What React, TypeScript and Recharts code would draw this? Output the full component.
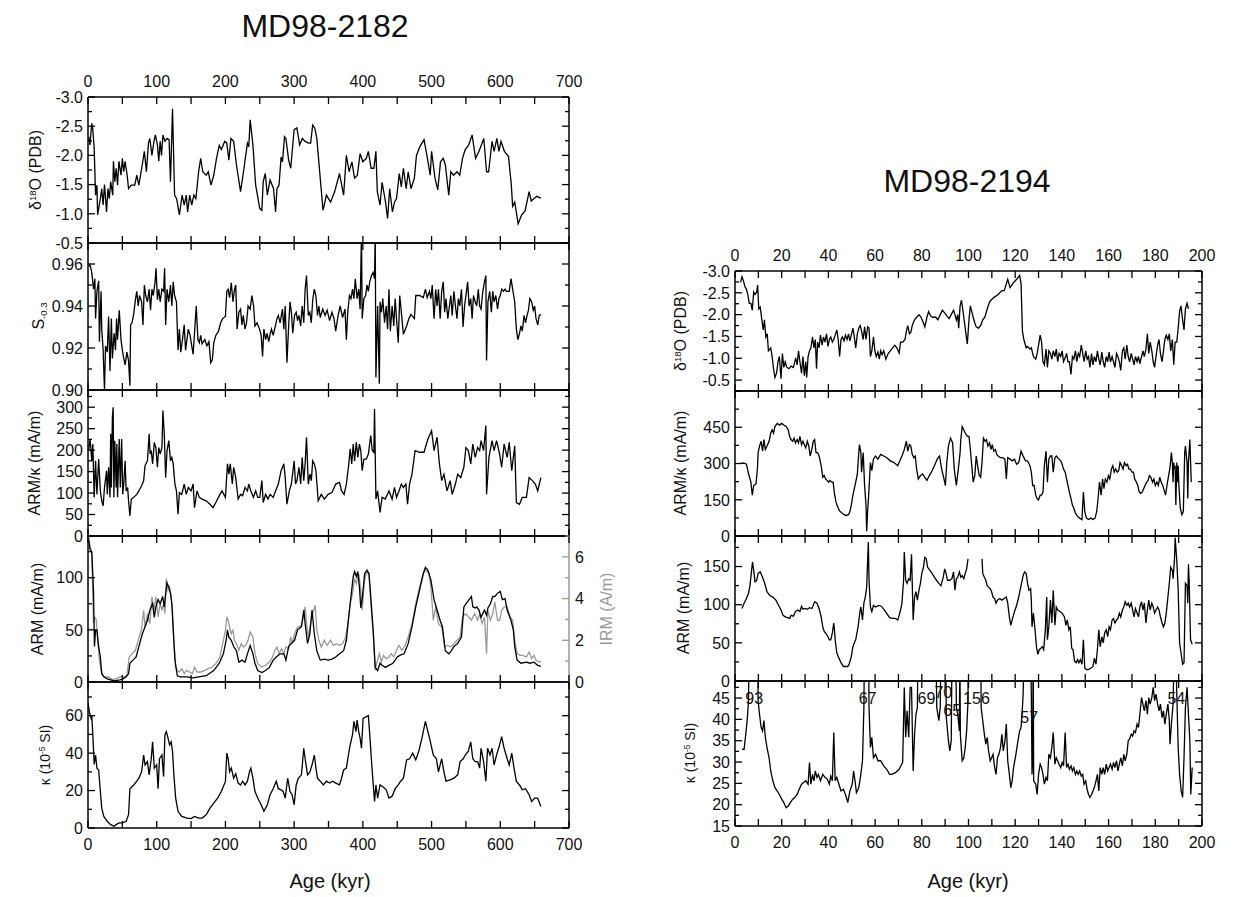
import React from 'react';
import { LineChart, Line, XAxis, YAxis, ReferenceDot } from 'recharts';

type Pt = [number, number | null];

const FONT = '"Liberation Sans", Arial, sans-serif';
const M = 60; // axis band around every plot area inside its svg

// ---------- MD98-2182 (left column), age in kyr ----------
const leftD18O: Pt[] = [
  [1, -2.32], [3, -2.18], [4, -2.35], [5.5, -2.55], [7, -2.44], [9, -2.12], [11, -1.32], [13, -1.49], [14, -0.98],
  [18, -1.26], [20, -1.43], [22, -1.15], [24, -1.5], [27, -1.03], [29, -1.43], [31, -1.26], [33, -1.55], [36, -1.32],
  [37, -1.9], [39, -1.55], [41, -1.78], [43, -1.49], [45, -1.9], [48, -1.66], [50, -1.95], [52, -1.72], [54, -1.9],
  [57, -1.66], [59, -1.43], [63, -1.49], [68, -1.49], [71, -1.66], [74, -1.49], [79, -1.84], [82, -2.07], [85, -1.72],
  [88, -2.21], [90, -2.29], [93, -2.0], [96, -2.24], [98, -2.35], [101, -2.18], [103, -1.9], [105, -2.24], [107, -2.0],
  [109, -2.35], [112, -2.24], [115, -2.29], [118, -2.27], [120, -1.55], [123, -2.8], [126, -1.32], [129, -1.26],
  [133, -0.98], [137, -1.32], [140, -1.15], [143, -1.32], [145, -1.03], [148, -1.32], [151, -1.15], [154, -1.32],
  [157, -1.26], [161, -1.72], [164, -1.95], [167, -1.72], [172, -1.66], [175, -1.72], [179, -1.49], [183, -1.66],
  [187, -1.95], [191, -2.17], [194, -2.1], [199, -2.24], [202, -2.21], [205, -1.92], [208, -2.29], [212, -2.24],
  [216, -1.84], [222, -1.38], [227, -1.78], [232, -2.21], [234, -2.15], [236, -2.61], [240, -2.18], [244, -1.49],
  [250, -1.09], [253, -1.06], [255, -1.55], [258, -1.69], [261, -1.32], [265, -1.58], [270, -1.43], [273, -1.03],
  [275, -1.43], [278, -1.49], [281, -1.97], [283, -1.89], [286, -2.32], [288, -2.29], [292, -1.92], [295, -1.78],
  [300, -2.44], [304, -2.47], [308, -2.18], [312, -2.29], [316, -2.24], [321, -2.21], [324, -2.21], [327, -2.52],
  [330, -2.47], [333, -2.29], [342, -1.06], [347, -1.32], [353, -1.2], [359, -1.38], [366, -1.69], [372, -1.32],
  [376, -2.0], [380, -1.72], [384, -1.89], [388, -1.61], [392, -1.66], [396, -2.03], [400, -1.89], [405, -1.95],
  [408, -2.07], [412, -1.78], [416, -1.78], [419, -2.07], [421, -1.38], [425, -1.15], [428, -1.54], [433, -1.2],
  [436, -0.92], [439, -1.43], [443, -1.03], [446, -1.2], [449, -1.26], [453, -1.69], [456, -1.46], [459, -1.78],
  [463, -1.43], [466, -1.72], [470, -1.43], [475, -1.61], [478, -2.0], [483, -2.15], [489, -2.27], [494, -1.95],
  [498, -1.66], [500, -2.07], [505, -1.61], [509, -1.41], [513, -1.89], [517, -1.95], [520, -1.84], [525, -1.32],
  [528, -1.72], [532, -1.66], [537, -1.72], [541, -1.66], [545, -1.95], [549, -2.1], [554, -2.18], [559, -2.35],
  [564, -1.95], [569, -2.07], [576, -2.29], [580, -1.72], [583, -1.72], [588, -2.24], [591, -2.07], [595, -2.29],
  [598, -2.07], [601, -2.24], [606, -2.07], [612, -1.98], [616, -1.5], [618, -1.13], [621, -1.2], [626, -0.83],
  [631, -0.98], [636, -1.05], [642, -1.38], [645, -1.22], [653, -1.3], [659, -1.27],
];

const leftS03: Pt[] = [
  [1, 0.959], [3, 0.9595], [5.5, 0.956], [8, 0.948], [10, 0.953], [11, 0.934], [13, 0.947], [15.5, 0.952], [16.6, 0.923],
  [19, 0.947], [20, 0.929], [22, 0.919], [24, 0.9], [25.5, 0.921], [28, 0.918], [30, 0.935], [32, 0.909], [34, 0.934],
  [35.5, 0.915], [38, 0.927], [40, 0.919], [41.6, 0.934], [43, 0.924], [45.5, 0.938], [48, 0.924], [50, 0.919],
  [52, 0.915], [54, 0.912], [56.6, 0.918], [59, 0.914], [61, 0.902], [62, 0.931], [64, 0.932], [66.5, 0.936],
  [69, 0.943], [71, 0.947], [73, 0.94], [75, 0.945], [78, 0.942], [80, 0.931], [82, 0.95], [84, 0.945], [86.5, 0.942],
  [89, 0.948], [91, 0.938], [93, 0.948], [95, 0.945], [97.6, 0.9515], [99, 0.958], [101, 0.943], [103, 0.948],
  [105, 0.942], [107.6, 0.948], [110, 0.947], [111.5, 0.958], [113, 0.931], [115, 0.948], [117.6, 0.942], [120, 0.95],
  [122, 0.94], [124, 0.9515], [126, 0.945], [128.7, 0.942], [131, 0.919], [133, 0.929], [135, 0.918], [137.5, 0.924],
  [140, 0.931], [142, 0.919], [144, 0.924], [146, 0.929], [148.6, 0.926], [151, 0.921], [153, 0.917], [155, 0.927],
  [157.5, 0.94], [160, 0.924], [162, 0.9225], [164, 0.926], [166, 0.922], [170, 0.924], [173, 0.921], [176, 0.923],
  [178.6, 0.913], [181, 0.9145], [183, 0.9225], [186, 0.926], [190, 0.928], [193, 0.932], [196, 0.934], [200, 0.935],
  [202, 0.947], [204, 0.948], [206, 0.944], [208.5, 0.951], [211, 0.942], [213, 0.9475], [215, 0.95], [217, 0.929],
  [219.6, 0.937], [222, 0.9385], [224, 0.931], [226, 0.9355], [228.5, 0.929], [230.7, 0.932], [233, 0.94],
  [236, 0.9385], [238.5, 0.945], [241, 0.94], [243, 0.9305], [246, 0.932], [249.6, 0.929], [252, 0.926], [254, 0.916],
  [256, 0.929], [258.5, 0.924], [260.7, 0.927], [263, 0.923], [265, 0.9265], [267, 0.929], [269.5, 0.926],
  [273, 0.931], [275, 0.934], [277, 0.9355], [279.5, 0.932], [283, 0.9385], [285, 0.929], [287, 0.94], [289.5, 0.913],
  [292, 0.9305], [294, 0.942], [296, 0.937], [298, 0.927], [300.6, 0.9355], [303, 0.937], [305, 0.933], [307, 0.9355],
  [309.5, 0.9305], [311.7, 0.94], [314, 0.932], [316, 0.948], [318, 0.9545], [320.6, 0.9355], [322.8, 0.937],
  [325, 0.932], [327, 0.943], [329.4, 0.948], [331.6, 0.945], [334, 0.9355], [336, 0.94], [338, 0.9345],
  [341.6, 0.9385], [345, 0.9355], [348, 0.938], [351.6, 0.933], [355, 0.937], [358, 0.934], [360.5, 0.928],
  [364, 0.9355], [367, 0.94], [370.5, 0.9345], [374, 0.9385], [376, 0.924], [378, 0.937], [380.5, 0.945],
  [382.7, 0.9435], [385, 0.948], [387, 0.9435], [389, 0.953], [391.6, 0.9435], [394, 0.948], [396, 0.9385],
  [398, 0.975], [399, 0.934], [401.5, 0.9435], [404, 0.945], [406, 0.95], [408, 0.947], [410, 0.9515], [412.6, 0.9545],
  [415, 0.956], [417, 0.953], [418, 0.975], [419, 0.906], [421.5, 0.94], [424, 0.903], [425, 0.942], [427, 0.937],
  [429, 0.9435], [431.6, 0.932], [434, 0.94], [436, 0.929], [438, 0.948], [440, 0.928], [442.6, 0.94], [445, 0.9305],
  [447, 0.9435], [449, 0.934], [451.5, 0.9225], [453.7, 0.945], [456, 0.937], [459, 0.9265], [463.7, 0.9305],
  [467, 0.934], [470, 0.936], [475, 0.934], [477, 0.945], [482.5, 0.945], [488, 0.944], [491, 0.948], [493.6, 0.944],
  [497, 0.947], [499, 0.9435], [501, 0.95], [503.6, 0.934], [506, 0.948], [508, 0.94], [510, 0.948], [512.5, 0.934],
  [514.7, 0.947], [517, 0.9515], [519, 0.937], [521, 0.9435], [523.6, 0.934], [526, 0.94], [528, 0.945],
  [530, 0.9355], [532.5, 0.947], [534.7, 0.94], [537, 0.934], [539, 0.9435], [541, 0.94], [543.5, 0.948],
  [545.8, 0.93], [548, 0.94], [550, 0.945], [552.5, 0.9515], [554.6, 0.94], [557, 0.9435], [559, 0.934], [561, 0.945],
  [563.5, 0.942], [565.7, 0.94], [568, 0.948], [570, 0.94], [572, 0.9385], [574.6, 0.947], [577, 0.9515],
  [579, 0.9545], [580, 0.914], [582, 0.942], [584.6, 0.947], [587, 0.937], [589, 0.947], [591, 0.942], [593.5, 0.945],
  [596, 0.9385], [598, 0.9435], [600, 0.945], [602, 0.948], [604.7, 0.947], [607, 0.948], [609, 0.947], [613, 0.947],
  [615.6, 0.953], [618, 0.948], [621, 0.942], [623.4, 0.929], [625.6, 0.924], [628, 0.927], [630, 0.9305],
  [632, 0.928], [634.5, 0.9355], [636.7, 0.932], [639, 0.9355], [641, 0.938], [643, 0.9435], [645.6, 0.942],
  [648, 0.938], [650, 0.94], [652, 0.934], [654.5, 0.931], [656.7, 0.9355], [659, 0.936],
];

const leftArmK: Pt[] = [
  [1, 199], [3, 226], [5.5, 175], [7, 214], [9, 90], [11, 175], [13, 97], [15.5, 179], [18, 105], [20, 82], [22, 70],
  [24, 113], [27, 152], [28, 97], [30, 160], [32, 90], [33, 238], [34, 113], [35.5, 277], [36.6, 300], [37.7, 90],
  [39, 222], [41, 113], [42, 214], [43, 90], [45.5, 226], [47, 113], [49, 226], [50.5, 97], [52, 121], [54, 175],
  [55.5, 105], [57.7, 113], [59, 82], [61, 47], [63, 86], [66.5, 90], [71, 97], [74, 105], [78, 117], [81, 129],
  [83, 164], [86.5, 175], [89, 238], [90.4, 191], [92, 199], [94, 168], [96.5, 218], [98.7, 206], [101, 160],
  [103, 206], [105, 191], [107.6, 206], [109, 292], [111, 238], [113, 136], [115, 199], [117.6, 222], [120, 175],
  [122, 183], [124, 168], [126.5, 121], [128.7, 105], [131, 51], [133, 101], [136.4, 97], [140, 121], [143, 97],
  [146, 113], [150, 105], [153, 121], [155, 66], [158.6, 105], [162, 90], [166, 86], [172, 82], [177.5, 74], [182, 66],
  [186, 78], [192, 97], [195, 105], [200, 90], [203, 168], [205, 144], [207, 168], [210, 121], [212, 160], [215, 136],
  [218.5, 86], [222, 97], [225, 94], [228.5, 113], [232, 105], [234, 121], [237, 105], [240.7, 90], [244, 105],
  [247, 90], [250, 90], [253, 129], [255, 78], [258.5, 97], [262, 86], [265, 97], [269.5, 90], [273, 105], [277, 121],
  [281, 152], [285, 168], [287, 136], [289.5, 74], [293, 105], [296, 121], [300, 175], [302, 121], [304, 129],
  [307, 160], [309.5, 121], [311.7, 183], [314, 129], [316, 168], [318, 230], [320.6, 121], [323, 144], [325, 129],
  [327, 175], [329.4, 168], [331.7, 152], [335, 82], [339.5, 97], [344, 86], [349.4, 97], [355, 101], [360.5, 121],
  [366, 125], [369, 105], [372.7, 97], [376, 121], [379, 160], [381.6, 203], [383.8, 168], [386, 214], [388, 175],
  [390.5, 218], [392.7, 183], [395, 214], [397, 199], [399, 152], [401.5, 179], [405, 179], [408, 191], [411.5, 234],
  [413.7, 199], [416, 195], [417, 296], [419, 86], [421.5, 105], [425, 55], [428, 90], [432.6, 86], [438, 105],
  [442.6, 86], [446, 113], [449, 90], [452.6, 105], [456, 121], [459, 113], [462.6, 121], [465, 74], [468, 121],
  [471.5, 144], [476, 199], [482.5, 195], [489, 195], [494.7, 226], [500, 245], [503.6, 199], [508, 230], [511.4, 168],
  [514.7, 129], [518, 144], [522.5, 105], [527, 129], [530, 97], [534.7, 121], [538, 144], [542.4, 136], [547, 160],
  [550, 206], [553.5, 199], [557, 168], [560, 214], [563.5, 183], [567, 206], [570, 199], [572, 222], [575.7, 199],
  [579, 257], [580, 97], [583.5, 183], [588, 222], [591, 199], [594.6, 222], [599, 191], [602, 160], [605.6, 214],
  [610, 183], [613, 218], [616.7, 152], [621, 210], [623.4, 78], [628, 74], [632, 90], [638, 90], [642, 136],
  [646.7, 129], [651, 121], [654.5, 105], [659, 136],
];

const leftArm: Pt[] = [
  [1, 136], [3, 127], [5.5, 125], [8, 88], [9.4, 34], [11, 50], [13, 50], [15.5, 34], [18, 24], [20, 8], [23, 5],
  [28, 3], [33, 2], [38, 1], [42, 1.6], [46.6, 2], [51, 3], [55.5, 5], [59, 8], [61, 18], [65.5, 21], [70, 24],
  [74, 34], [79, 46], [83, 53], [86.5, 59], [90, 69], [94, 75], [96.5, 62], [98.7, 72], [102, 79], [105, 75],
  [108.7, 82], [111, 72], [113, 85], [115, 95], [117.6, 91], [120, 85], [122, 75], [124, 50], [126.5, 21], [130, 6],
  [134, 5], [144, 5], [152.5, 4], [161, 5], [172, 6], [183, 11], [191, 18], [197, 27], [201, 40], [203, 50], [205, 43],
  [208.5, 40], [212, 34], [216, 30], [219.6, 19], [224, 21], [228.5, 19], [232, 27], [236, 35], [240, 27], [243, 18],
  [247, 11], [253, 9], [258.5, 11], [264, 14], [269.5, 21], [274, 24], [279.5, 27], [285, 27], [288, 21], [292, 34],
  [296, 37], [300.6, 40], [305, 50], [310.6, 53], [314, 69], [316, 56], [319.5, 37], [322.8, 46], [326, 69],
  [329.4, 46], [333, 30], [338, 21], [344, 22], [349.4, 21], [355, 22], [360.5, 24], [366, 27], [372, 30], [376, 40],
  [380.5, 69], [382.7, 82], [386, 101], [388, 106], [390.5, 101], [392.7, 106], [395, 91], [397, 71], [399, 79],
  [402.6, 104], [406, 107], [409, 104], [411.5, 82], [415, 50], [418, 14], [421.5, 11], [425, 18], [428, 16],
  [432.6, 14], [438, 16], [443.7, 18], [447, 21], [450, 24], [455, 26], [460, 27], [466, 37], [471.5, 53], [477, 72],
  [482.5, 88], [488, 104], [491, 110], [494.7, 107], [499, 98], [503.6, 79], [508, 69], [512.5, 59], [515.8, 53],
  [520, 30], [525, 27], [529, 30], [532.5, 34], [538, 37], [543.5, 43], [547, 72], [550, 75], [554.6, 79], [558, 82],
  [560, 72], [563.5, 71], [565.7, 72], [569, 69], [572, 62], [577, 69], [580, 64], [582, 71], [585.7, 75], [589, 82],
  [592, 82], [596, 85], [600, 87], [603, 79], [607, 80], [610, 69], [615.6, 59], [619, 50], [621, 34], [624.5, 21],
  [630, 18], [638, 19], [643, 18], [649, 19], [654.5, 16], [659, 15],
];

const leftIrm: Pt[] = [
  [1, 6.96], [3, 6.5], [5.5, 6.2], [8, 2.8], [10, 3.1], [12, 3.0], [14, 2.0], [16.6, 1.04], [20, 0.4], [24, 0.24],
  [30, 0.24], [35.5, 0.11], [41, 0.16], [46.6, 0.24], [52, 0.24], [56.6, 0.32], [60, 1.2], [64, 1.36], [69, 1.52],
  [73, 2.0], [77.6, 2.48], [81, 3.44], [83, 2.64], [86.5, 3.28], [90, 2.8], [93, 4.08], [96.5, 3.44], [98.7, 4.08],
  [102, 3.12], [105, 3.76], [107.6, 3.44], [110, 3.76], [112, 3.28], [114, 4.96], [116.5, 4.4], [118.7, 4.56],
  [121, 4.08], [123, 3.44], [125, 2.0], [127.6, 0.72], [130, 0.56], [133, 0.48], [136.4, 0.64], [140, 0.4],
  [143, 0.56], [147.5, 0.48], [152, 0.4], [155, 0.72], [158.6, 0.48], [164, 0.48], [170, 0.56], [175, 0.64],
  [181, 0.72], [186, 0.88], [192, 1.2], [196, 1.84], [200, 2.48], [202, 3.12], [204, 2.96], [206, 2.64], [208.5, 2.32],
  [211, 2.48], [213, 2.0], [216, 1.84], [219.6, 1.52], [223, 1.84], [226, 1.68], [229.6, 1.76], [233, 2.0], [236, 2.4],
  [240, 2.16], [243, 1.36], [247, 0.88], [253, 0.72], [258.5, 0.8], [264, 0.96], [268.6, 1.2], [272, 1.52],
  [275, 1.68], [278, 1.36], [282, 1.6], [285, 1.36], [288, 1.68], [292, 1.6], [295, 2.16], [297, 1.84], [300.6, 2.32],
  [305, 2.64], [308, 2.64], [311.7, 2.8], [316, 3.6], [318, 2.8], [320.6, 2.16], [323.9, 2.8], [327, 3.28],
  [330.6, 3.68], [333, 2.48], [336, 2.0], [339.5, 1.68], [344, 2.0], [348, 1.76], [353, 2.0], [357, 1.76],
  [361.6, 1.84], [366, 1.76], [370.5, 1.84], [375, 2.16], [378, 2.8], [381.6, 3.76], [385, 4.24], [388, 4.96],
  [390.5, 4.72], [394, 5.2], [397, 4.4], [399, 3.44], [402.6, 4.88], [406, 5.36], [409, 5.04], [411.5, 3.76],
  [415, 2.32], [418, 0.56], [420, 0.88], [424, 1.36], [427, 0.96], [430, 1.28], [434, 1.12], [438, 1.2], [441.5, 1.36],
  [445, 1.2], [449, 1.52], [452.6, 1.76], [457, 1.52], [461.5, 1.76], [466, 2.16], [471.5, 2.8], [477, 3.76],
  [482.5, 4.56], [488, 5.2], [491, 5.39], [496, 5.2], [499, 4.56], [502.5, 2.96], [506, 3.6], [510, 2.8],
  [514.7, 2.64], [519, 1.68], [523.6, 1.76], [528, 1.68], [532.5, 1.84], [537, 2.0], [541.6, 2.16], [545, 3.12],
  [549, 3.28], [554, 3.12], [558, 2.96], [562.6, 3.28], [567, 2.96], [570, 3.28], [573.5, 2.8], [577, 3.12],
  [580, 1.36], [582, 3.44], [585.7, 2.96], [589, 3.28], [592, 3.84], [596, 2.96], [599, 2.96], [602, 3.44],
  [605.6, 3.6], [610, 3.6], [614.5, 3.12], [618, 2.96], [621, 2.0], [624.5, 1.36], [629, 1.28], [633, 1.28],
  [638, 1.2], [642, 1.44], [645.6, 1.12], [649, 1.28], [652, 1.04], [657, 0.96], [659, 1.0],
];

const leftKappa: Pt[] = [
  [0, 67], [2, 62], [4.5, 58.6], [5.5, 60], [7, 50], [9, 34], [11, 39], [13, 32], [15.5, 31], [18, 19.5], [20, 10.6],
  [23, 6.2], [28, 3.6], [33, 1.8], [38, 0.9], [41, 1.8], [45.5, 2.7], [50, 2.7], [55.5, 3.6], [59, 7.1], [61, 21],
  [66.5, 23], [71, 25], [74, 26.6], [78, 30], [81, 39], [83, 33.7], [86.5, 35.5], [89, 28.4], [92, 37], [94, 46],
  [96.5, 32], [100, 33.7], [102, 21], [104, 37], [107.6, 39], [110, 27.5], [112, 50], [114, 51.5], [116.5, 48],
  [118.7, 44.4], [121, 46], [123, 41], [125, 28.4], [127.6, 16], [131, 8.9], [136.4, 6.2], [144, 5.3], [150, 5],
  [155, 6.2], [161, 5.3], [166, 5.3], [172, 7.1], [177.5, 10.6], [183, 13.3], [188.6, 16], [194, 19.5], [200, 24.9],
  [202, 40], [204, 37], [206, 30], [208.5, 32], [212, 26.6], [215, 29], [218.5, 24], [222, 23], [225, 25], [228.5, 23],
  [232, 25], [235, 30], [237, 32], [240, 26.6], [243, 19.5], [247, 16], [252, 12.4], [256, 8.9], [261, 12.4],
  [265, 17.8], [269.5, 21], [274, 25], [277, 21], [281, 20.4], [284, 19.5], [287, 16], [290.6, 26.6], [294, 19.5],
  [297, 17.8], [300, 12.4], [303, 23], [306, 26.6], [310.6, 28.4], [314, 42.6], [316, 37], [319.5, 28.4], [323, 30],
  [326, 33.7], [329.4, 39], [331.7, 32], [334, 26.6], [338, 25], [342.6, 23], [347, 25], [351.6, 24], [356, 25],
  [360.5, 24], [366, 23], [369, 26.6], [372, 31], [376, 32], [379, 39], [381.6, 44.4], [385, 50], [387, 57],
  [390, 51.5], [391.6, 57.7], [394, 51.5], [396, 48], [398, 42.6], [400.4, 58.6], [405, 59.5], [408, 60], [410, 50],
  [413.7, 30], [417, 14.2], [419, 23], [421.5, 16], [425, 23], [429, 22], [434, 20.4], [438, 16], [442.6, 17],
  [447, 21], [451.5, 23], [455, 25], [459, 26.6], [463.7, 36.4], [468, 37], [472.5, 40], [477, 36.4], [481.4, 41],
  [486, 48], [491, 57], [497, 48], [502.5, 39], [507, 37], [510, 30], [514.7, 37], [518, 30], [521, 25], [527, 25.7],
  [532.5, 26.6], [538, 28.4], [541.6, 35.5], [546, 37], [549, 39], [553.5, 41], [557, 46], [560, 37], [563.5, 35.5],
  [567, 35.5], [570, 32], [572, 42.6], [575.7, 35.5], [579, 25], [581.5, 42.6], [585, 39], [588, 42.6], [591, 33.7],
  [594.6, 39], [599, 44.4], [602, 48.8], [605.6, 42.6], [610, 37], [613, 33.7], [616.7, 40], [620, 32], [623.4, 24.9],
  [628, 23], [632, 20.4], [636.7, 21], [642, 17.8], [645.6, 14.2], [650, 16], [654.5, 16], [659, 11.5],
];

// ---------- MD98-2194 (right column) ----------
const rightD18O: Pt[] = [
  [2.4, -2.74], [3, -2.87], [3.6, -2.78], [4.2, -2.65], [4.9, -2.58], [5.5, -2.46], [6.1, -2.26], [6.8, -2.26],
  [7.4, -2.1], [8, -2.52], [8.6, -2.46], [9.3, -2.52], [9.7, -2.68], [10.2, -2.13], [10.8, -2.17], [11.5, -1.88],
  [12.1, -1.65], [12.6, -1.88], [13.2, -1.49], [13.8, -1.56], [14.3, -1.17], [15.3, -1.24], [15.9, -1.04],
  [16.5, -0.76], [17.1, -0.56], [17.8, -0.66], [18.4, -0.92], [19, -1.04], [19.7, -0.53], [20.3, -1.11], [20.9, -0.79],
  [21.5, -0.92], [22.2, -0.79], [23.1, -0.76], [24, -0.82], [25, -0.79], [26, -1.01], [26.6, -0.85], [27.2, -1.17],
  [27.8, -0.92], [28.5, -0.66], [29.1, -1.04], [29.7, -0.6], [30.3, -0.92], [30.7, -0.56], [31.3, -1.04],
  [31.9, -1.17], [32.5, -1.24], [33.2, -1.49], [33.8, -1.24], [34.4, -1.43], [34.9, -0.76], [35.4, -1.37],
  [36, -1.24], [36.6, -1.53], [37.3, -1.3], [37.9, -1.49], [38.5, -1.37], [39.2, -1.56], [39.8, -1.27], [40.4, -1.43],
  [41, -1.49], [41.7, -1.37], [42.3, -1.43], [42.9, -1.53], [43.6, -1.65], [44.2, -1.43], [44.8, -1.04],
  [45.4, -1.43], [46, -1.49], [46.7, -1.4], [47.3, -1.53], [48, -1.43], [48.6, -1.56], [49.2, -1.4], [49.8, -1.53],
  [50.5, -1.69], [51.1, -1.49], [51.7, -1.24], [52.4, -1.56], [53, -1.69], [53.6, -1.75], [54.2, -1.62],
  [54.9, -1.43], [55.5, -1.72], [56.1, -1.43], [56.8, -1.72], [57.4, -1.69], [58, -1.04], [58.6, -1.17],
  [59.3, -1.49], [59.9, -1.17], [60.5, -1.04], [61.2, -1.14], [61.8, -0.98], [62.4, -1.17], [63, -1.08],
  [63.7, -1.17], [64.6, -0.98], [65.6, -1.11], [66.5, -1.17], [67.5, -1.24], [68.4, -1.3], [69.3, -1.24],
  [70.3, -1.12], [70.9, -1.37], [71.9, -1.37], [72.8, -1.43], [73.4, -1.62], [74, -1.75], [74.7, -1.56],
  [75.3, -1.59], [75.9, -1.75], [76.9, -1.88], [77.8, -1.94], [78.8, -2.0], [79.7, -1.94], [80.7, -1.81],
  [81.3, -1.72], [82.2, -1.94], [82.9, -2.07], [83.8, -1.97], [84.7, -1.94], [86, -1.94], [86.9, -1.88], [87.9, -2.0],
  [88.8, -2.1], [89.8, -2.04], [90.7, -1.97], [91.7, -1.91], [92.6, -2.0], [93.6, -2.1], [94.2, -2.0], [94.8, -1.88],
  [95.4, -2.0], [95.8, -1.69], [96.4, -2.2], [97, -2.33], [97.6, -2.1], [98.3, -1.81], [98.9, -1.56], [99.5, -1.33],
  [100.2, -1.88], [100.8, -2.2], [101.4, -2.07], [102, -1.94], [102.7, -1.81], [103.3, -1.72], [104.2, -1.69],
  [105.2, -1.75], [106.1, -1.88], [107, -1.94], [108, -2.13], [109, -2.29], [109.6, -2.33], [110.8, -2.39],
  [112.7, -2.46], [114.3, -2.55], [115.3, -2.55], [116.8, -2.81], [117.8, -2.62], [119, -2.71], [120.6, -2.81],
  [121.9, -2.9], [122.5, -2.71], [123.1, -1.62], [123.7, -1.43], [124.7, -1.24], [125.3, -1.27], [126.3, -1.21],
  [126.9, -1.24], [127.8, -1.04], [128.8, -0.98], [129.4, -1.11], [130, -1.3], [130.7, -1.53], [131.3, -1.37],
  [131.9, -0.92], [132.5, -0.85], [133.2, -1.21], [133.8, -0.79], [134.4, -1.17], [135.1, -1.11], [135.7, -0.98],
  [136.3, -1.17], [137, -1.04], [137.6, -1.21], [138.2, -0.92], [138.8, -1.11], [139.5, -1.04], [140.1, -1.17],
  [140.7, -0.92], [141.4, -1.01], [142, -1.11], [142.6, -0.92], [143.2, -0.92], [143.9, -0.63], [144.5, -1.04],
  [145.1, -0.98], [145.8, -1.17], [146.4, -0.92], [147, -1.11], [147.6, -1.04], [148.3, -1.3], [148.9, -1.11],
  [149.5, -0.92], [150.2, -1.17], [150.8, -0.98], [151.4, -1.04], [152, -0.79], [152.7, -1.11], [153.3, -0.85],
  [153.9, -1.04], [154.6, -0.92], [155.2, -1.17], [155.8, -0.98], [156.4, -0.85], [157.1, -1.14], [157.7, -0.92],
  [158.3, -0.79], [159, -1.04], [159.6, -0.92], [160.2, -1.14], [160.8, -0.92], [161.5, -1.04], [162.1, -0.92],
  [162.7, -0.79], [163.4, -1.11], [164, -1.04], [164.6, -0.92], [165.2, -0.72], [165.9, -1.17], [166.5, -1.24],
  [167.1, -0.98], [167.8, -1.3], [168.4, -1.04], [169, -0.92], [169.7, -1.11], [170.3, -0.98], [170.9, -0.85],
  [171.5, -1.04], [172.2, -0.92], [172.8, -1.04], [173.4, -0.88], [174.1, -1.04], [174.7, -1.17], [175.3, -1.04],
  [176, -1.21], [176.6, -1.56], [177.2, -1.11], [177.8, -1.37], [178.5, -1.17], [179.1, -0.92], [179.7, -0.79],
  [180.3, -1.04], [181, -1.3], [181.6, -1.43], [182.2, -1.11], [182.9, -0.92], [183.5, -1.17], [184.1, -1.43],
  [184.7, -1.53], [185.4, -1.43], [186, -1.56], [186.6, -1.17], [187.3, -1.43], [187.9, -0.85], [188.5, -1.37],
  [189.2, -1.37], [189.8, -1.69], [190.4, -2.07], [191, -2.2], [191.7, -1.88], [192.3, -1.65], [192.9, -2.13],
  [193.6, -2.26], [194.2, -2.13],
];

const rightArmK: Pt[] = [
  [2.7, 301], [3.9, 301], [4.9, 297], [5.8, 257], [6.8, 223], [7.4, 169], [8, 209], [9, 216], [9.6, 277], [9.9, 345],
  [10.5, 372], [11.2, 392], [11.8, 351], [12.4, 399], [13, 358], [13.7, 372], [14.6, 392], [15.3, 426], [15.9, 439],
  [16.5, 426], [17.1, 453], [18.1, 466], [19, 459], [20, 466], [20.9, 459], [21.9, 453], [22.8, 439], [23.4, 412],
  [24, 399], [24.7, 392], [25.3, 405], [25.9, 385], [26.6, 399], [27.2, 385], [27.8, 412], [28.5, 378], [29.1, 392],
  [29.7, 378], [30.3, 365], [31, 392], [31.6, 372], [32.2, 331], [32.9, 358], [33.5, 392], [34.1, 399], [34.7, 345],
  [35.4, 345], [36, 331], [36.9, 291], [37.6, 243], [38.2, 250], [38.8, 236], [39.5, 230], [40.1, 223], [40.7, 230],
  [41.4, 223], [42, 223], [42.6, 176], [43.2, 142], [43.9, 122], [44.8, 104], [45.8, 95], [46.7, 88], [47.6, 85],
  [48.6, 88], [49.2, 101], [49.8, 128], [50.5, 169], [51.1, 196], [51.7, 223], [52.4, 257], [53, 345], [53.3, 378],
  [53.9, 345], [54.2, 264], [54.9, 345], [55.5, 209], [56.1, 128], [56.4, 20], [56.8, 101], [57.4, 196], [58, 304],
  [58.6, 270], [59.3, 318], [60.2, 331], [61.2, 318], [62.4, 338], [63.7, 331], [65, 324], [66.5, 311], [68.1, 304],
  [69.7, 291], [70.6, 311], [71.5, 331], [72.5, 358], [73.4, 392], [74, 351], [74.7, 378], [75.3, 372], [75.9, 338],
  [76.6, 324], [77.2, 331], [77.8, 277], [78.5, 236], [79.4, 250], [80.3, 257], [81.3, 243], [82.2, 230], [83.2, 250],
  [84.1, 264], [85.4, 291], [86.6, 318], [87.6, 331], [88.5, 277], [89.5, 236], [90.1, 209], [90.7, 304], [91.4, 372],
  [92.3, 405], [93.2, 385], [93.9, 277], [94.8, 209], [95.8, 291], [96.4, 345], [96.7, 399], [97.3, 453], [98, 439],
  [98.6, 426], [99.5, 412], [100.2, 412], [100.8, 358], [101.4, 291], [102, 223], [102.7, 250], [103.3, 331],
  [103.9, 291], [104.6, 250], [105.2, 243], [105.8, 304], [106.4, 405], [107.1, 392], [107.7, 399], [108.3, 372],
  [109, 385], [109.6, 358], [110.2, 378], [110.8, 351], [111.5, 358], [112.1, 338], [112.7, 331], [113.7, 324],
  [114.6, 324], [115.6, 318], [116.2, 236], [116.8, 324], [117.8, 318], [118.7, 311], [119.7, 318], [120.6, 297],
  [121.5, 304], [122.5, 351], [123.4, 331], [124.4, 311], [125.3, 311], [126.3, 291], [126.9, 264], [127.5, 209],
  [128.1, 209], [128.8, 169], [129.4, 155], [130, 149], [130.7, 169], [131.3, 169], [131.9, 182], [132.5, 291],
  [133.2, 351], [133.8, 223], [134.4, 318], [135.1, 331], [135.7, 331], [136.3, 264], [137, 324], [137.6, 331],
  [138.2, 324], [138.8, 318], [139.5, 311], [140.1, 297], [140.7, 277], [141.4, 264], [142, 236], [142.6, 209],
  [143.2, 182], [143.9, 155], [144.5, 128], [145.1, 115], [145.8, 95], [146.7, 81], [147.6, 74], [148.6, 68],
  [149.2, 182], [149.8, 101], [150.5, 74], [151.4, 68], [152.4, 74], [153.3, 68], [154.2, 74], [154.9, 101],
  [155.5, 155], [156.1, 223], [156.8, 169], [157.4, 236], [158, 196], [158.6, 236], [159.3, 223], [159.9, 250],
  [160.5, 236], [161.2, 277], [161.8, 291], [162.4, 264], [163, 277], [163.7, 264], [164.3, 270], [164.9, 304],
  [165.6, 291], [166.2, 277], [166.8, 304], [167.5, 291], [168.1, 297], [168.7, 277], [169.3, 277], [170, 264],
  [170.6, 264], [171.2, 236], [171.9, 223], [172.5, 209], [173.1, 182], [173.7, 176], [174.4, 182], [175, 196],
  [175.6, 209], [176.3, 223], [176.9, 230], [177.5, 250], [178.1, 243], [178.8, 223], [179.4, 236], [180, 209],
  [180.7, 223], [181.3, 209], [181.9, 243], [182.5, 223], [183.2, 209], [183.8, 189], [184.4, 169], [185, 209],
  [185.7, 250], [186.3, 284], [186.9, 345], [187.3, 304], [187.6, 223], [187.9, 304], [188.2, 277], [188.5, 291],
  [188.8, 128], [189.2, 304], [189.5, 223], [189.8, 291], [190.1, 209], [190.7, 115], [191.4, 88], [192, 101],
  [192.6, 345], [192.9, 372], [193.6, 304], [193.9, 155], [194.2, 304], [194.8, 399], [195.4, 223],
];

const rightArm: Pt[] = [
  [3, 95], [3.9, 102], [4.9, 108], [5.8, 115], [6.4, 125], [7.1, 145], [7.5, 156], [8, 145], [8.6, 130], [9.3, 132],
  [9.9, 141], [10.8, 143], [11.8, 136], [12.7, 128], [13.7, 117], [14.9, 112], [16.2, 110], [17.5, 106], [18.7, 99],
  [19.7, 93], [20.6, 86], [21.5, 84], [22.5, 83], [23.4, 82], [24, 86], [25, 85], [25.9, 91], [26.9, 93], [27.8, 91],
  [28.5, 98], [29.1, 94], [30, 95], [31, 94], [31.9, 96], [32.9, 95], [33.5, 99], [34.1, 104], [35.1, 102], [36, 95],
  [36.9, 84], [37.6, 71], [38.2, 65], [39.2, 61], [39.8, 58], [40.4, 54], [41, 54], [41.7, 63], [42.3, 76], [42.6, 67],
  [42.9, 54], [43.6, 37], [44.2, 32], [44.8, 28], [45.4, 24], [46.4, 19], [47.3, 19], [48.3, 19], [48.9, 22],
  [49.8, 32], [50.5, 45], [51.1, 50], [51.7, 54], [52.7, 71], [53.6, 93], [53.9, 97], [54.6, 80], [55.2, 102],
  [55.8, 110], [56.4, 123], [56.8, 158], [57.1, 182], [57.4, 132], [58, 97], [58.6, 91], [59.3, 99], [60.2, 97],
  [61.5, 99], [62.7, 98], [64, 93], [64.9, 89], [66.2, 83], [67.5, 82], [68.7, 82], [69.7, 80], [70.3, 86], [70.9, 93],
  [71.5, 102], [72.2, 132], [72.5, 169], [73.1, 132], [73.7, 128], [74.4, 134], [75, 132], [75.6, 166], [76.3, 80],
  [76.9, 110], [77.5, 117], [78.1, 106], [78.8, 119], [79.4, 128], [80, 141], [80.7, 149], [81.3, 162], [81.9, 160],
  [82.5, 149], [83.5, 145], [84.4, 141], [85.4, 136], [86.3, 132], [87.3, 128], [88.2, 125], [89.2, 136], [89.8, 147],
  [90.4, 141], [91, 132], [92, 132], [92.9, 134], [93.6, 143], [94.2, 119], [94.8, 134], [95.4, 136], [96.1, 143],
  [96.7, 136], [97.3, 138], [98, 134], [98.6, 141], [99.2, 147], [99.8, 160], [102, null],
  [105.8, 160], [106.1, 141], [106.8, 136], [107.4, 132], [108, 125], [108.6, 123], [109.3, 121], [109.9, 117],
  [110.5, 110], [111.2, 108], [111.8, 102], [112.4, 106], [113.4, 108], [114.3, 106], [115.3, 108], [116.2, 110],
  [116.8, 102], [117.5, 84], [118.1, 73], [118.7, 80], [119.7, 91], [120.6, 99], [121.5, 110], [122.5, 125],
  [123.4, 138], [124, 143], [124.7, 141], [125.3, 128], [125.9, 119], [126.6, 121], [126.9, 106], [127.2, 71],
  [127.8, 89], [128.5, 67], [129.1, 45], [129.7, 35], [130.3, 41], [131, 43], [131.6, 45], [132.2, 41], [132.9, 67],
  [133.5, 110], [133.8, 54], [134.4, 71], [135.1, 106], [135.7, 76], [136.3, 119], [137, 73], [137.6, 97], [138.2, 93],
  [139.2, 91], [140.1, 89], [141.1, 84], [141.7, 73], [142.3, 80], [143, 67], [143.6, 71], [144.2, 43], [144.8, 41],
  [145.4, 26], [146.1, 24], [146.7, 28], [147.3, 24], [147.9, 28], [148.6, 22], [149.2, 54], [149.8, 17], [150.5, 15],
  [151.4, 15], [152.4, 17], [153.3, 19], [153.9, 30], [154.6, 22], [155.2, 41], [155.8, 67], [156.4, 45], [157.1, 58],
  [157.7, 50], [158.3, 63], [159, 67], [159.6, 58], [160.2, 71], [160.8, 67], [161.5, 80], [162.1, 82], [162.7, 76],
  [163.4, 80], [164, 82], [164.6, 89], [165.2, 84], [165.9, 93], [166.5, 97], [167.1, 104], [167.8, 99], [168.4, 102],
  [169, 97], [169.7, 102], [170.3, 93], [170.9, 84], [171.5, 95], [172.2, 89], [172.8, 84], [173.4, 97], [174.1, 104],
  [174.7, 93], [175.3, 102], [176, 76], [176.6, 93], [177.2, 106], [177.8, 93], [178.5, 102], [179.1, 97], [179.7, 89],
  [180.3, 93], [181, 97], [181.6, 93], [182.2, 84], [182.9, 76], [183.5, 71], [184.1, 76], [184.7, 89], [185.4, 110],
  [186, 128], [186.6, 149], [187.3, 145], [187.6, 134], [188.2, 158], [188.5, 188], [189.2, 158], [189.8, 119],
  [190.4, 50], [191, 37], [191.7, 22], [192.3, 24], [192.9, 128], [193.6, 125], [193.9, 102], [194.2, 153],
  [194.5, 132], [195.1, 54], [195.8, 48],
];

const rightKappa: Pt[] = [
  [3, 33], [3.9, 33], [4.6, 36.5], [5.2, 39.7], [5.8, 44.4], [6.6, 93], [9.4, 93], [9.9, 44.4], [10.5, 41.2],
  [11.2, 38.1], [11.8, 37.3], [12.4, 39.7], [13, 35.8], [13.7, 33.4], [14.6, 31], [15.3, 27.9], [16.2, 25.6], [17.1, 24],
  [18.1, 23.2], [19, 22.4], [20, 21.3], [20.9, 20.5], [21.9, 19.3], [22.8, 19.7], [23.7, 20.5], [24.7, 21.3],
  [25.6, 21.7], [26.6, 22.4], [27.5, 23.6], [28.5, 24.8], [29.4, 25.2], [30.3, 25.6], [31.3, 24.8], [31.9, 29.9],
  [32.5, 24.8], [33.2, 27.1], [33.8, 25.6], [34.4, 27.9], [35.1, 26.4], [35.7, 27.1], [36.6, 25.6], [37.6, 27.1],
  [38.5, 26.4], [39.5, 26], [40.4, 24.8], [41, 26.7], [41.7, 25.6], [42.3, 36.9], [42.9, 25.6], [43.6, 26.4],
  [44.5, 24.8], [45.4, 23.2], [46.4, 23.6], [47.3, 22.4], [48.3, 20.5], [49.2, 23.2], [50.2, 24.8], [50.8, 27.9],
  [51.4, 25.6], [52, 22.8], [53, 24], [53.9, 27.1], [54.6, 30.3], [55.2, 42.8], [55.6, 67], [57.2, 67], [57.4, 42.8],
  [58, 33.4], [58.6, 35.8], [59.3, 31], [60.2, 31.8], [61.2, 30.3], [62.4, 30.3], [63.7, 29.1], [65, 28.3],
  [66.2, 27.1], [67.1, 27.1], [68.7, 27.5], [70.3, 28.3], [71.8, 29.9], [72.5, 47.5], [73.1, 35.8], [73.7, 42],
  [74.4, 35.8], [75, 47.5], [75.6, 47.5], [76.3, 27.9], [76.9, 36.5], [77.5, 41.2], [78.1, 42.8], [78.6, 69],
  [85.8, 69], [86.4, 42.8], [87.3, 39.7], [87.9, 42.8], [88.4, 70], [90, 70], [90.5, 40.4], [91.4, 35], [92, 32.6],
  [92.6, 35], [93.1, 65], [94.4, 65], [94.8, 42.8], [95.4, 41.2], [96.1, 37.3], [96.3, 60], [96.5, 36.5], [97.3, 30.3],
  [98, 31], [98.6, 33.4], [99.2, 37.3], [99.8, 44.4], [100.3, 156], [104.8, 156], [105.4, 42.8], [106.1, 39.7],
  [106.8, 36.5], [107.4, 34.2], [108, 35.8], [108.6, 32.6], [109.3, 30.3], [109.9, 31], [110.5, 31.8], [111.2, 28.7],
  [111.8, 27.1], [112.4, 31], [113, 31.8], [113.7, 33.4], [114.3, 36.5], [114.9, 32.6], [115.6, 35], [116.2, 38.9],
  [116.8, 30.3], [117.5, 27.1], [118.1, 24], [118.7, 25.6], [119.3, 28.7], [120.3, 31.8], [121.2, 35], [121.9, 37.3],
  [122.5, 38.1], [123.1, 42.8], [123.4, 45.9], [123.8, 57], [126.6, 57], [126.9, 46], [127.2, 27.1], [127.5, 31.8],
  [127.7, 60], [127.9, 25.6], [128.8, 24.8], [129.4, 22.4], [130, 27.1], [130.7, 29.5], [131.3, 28.7], [131.9, 27.1],
  [132.5, 24.8], [133.2, 26.4], [133.8, 25.6], [134.4, 31.8], [135.1, 31], [135.7, 33.4], [136.3, 36.9], [137, 29.5],
  [137.6, 31], [138.2, 30.3], [138.8, 29.5], [139.5, 28.7], [140.1, 29.9], [140.7, 29.1], [141.4, 36.9], [142, 28.7],
  [142.6, 29.5], [143.2, 28.3], [143.9, 29.1], [144.5, 27.9], [145.1, 28.7], [145.8, 27.1], [146.4, 27.9], [147, 27.1],
  [147.6, 27.9], [148.3, 26.7], [148.9, 27.1], [149.5, 24.8], [150.2, 25.6], [150.8, 23.6], [151.4, 22.4], [152, 21.7],
  [152.7, 22.4], [153.3, 23.2], [153.9, 24], [154.6, 25.6], [155.2, 27.1], [155.8, 23.2], [156.4, 28.7], [157.1, 27.1],
  [157.7, 28.7], [158.3, 27.1], [159, 29.5], [159.6, 27.9], [160.2, 28.7], [160.8, 29.5], [161.5, 28.3], [162.1, 29.9],
  [162.7, 28.7], [163.4, 30.3], [164, 27.9], [164.6, 29.5], [165.2, 31], [165.9, 29.1], [166.5, 31.8], [167.1, 30.3],
  [167.8, 31.8], [168.4, 35], [169, 35.4], [169.7, 36.5], [170.3, 36.1], [170.9, 37.3], [171.5, 36.9], [172.2, 38.9],
  [172.8, 38.1], [173.4, 41.2], [174.1, 45.1], [174.7, 43.6], [175.3, 42], [176, 44.4], [176.6, 41.2], [177.2, 45.1],
  [177.8, 43.6], [178.5, 45.1], [179.1, 47.5], [179.7, 44.4], [180.3, 45.9], [181, 43.6], [181.6, 42], [182.2, 43.6],
  [182.9, 40.4], [183.5, 42], [184.1, 38.9], [184.7, 41.2], [185.4, 43.6], [186, 39.7], [186.3, 34.2], [186.9, 38.9],
  [187.6, 43.6], [188, 54], [188.9, 54], [189.2, 46], [189.8, 33.4], [190.4, 27.1], [191.1, 23.2], [191.7, 21.7],
  [192.3, 31], [192.9, 42.8], [193.6, 47.5], [194.2, 41.2], [194.8, 35], [195.2, 22.4], [195.8, 28.7],
];

// off-scale κ peak values written at the top of the MD98-2194 κ panel
const kappaNoteAges = [8.2, 56.8, 82, 89.2, 93, 103.4, 126, 189];
const kappaNoteLevels = [45, 45, 45, 46.4, 42.2, 45, 40.5, 45];
const kappaNoteTexts = ['93', '67', '69', '70', '65', '156', '57', '54'];

// ---------- axis configuration ----------
interface AxisCfg {
  domain: [number, number];
  major: number;
  minor: number;
  digits: number;
  reversed?: boolean;
  maxLabel?: number;
}

const ageLeft: AxisCfg = { domain: [0, 700], major: 100, minor: 50, digits: 0 };
const ageRight: AxisCfg = { domain: [0, 200], major: 20, minor: 10, digits: 0 };

const isMajor = (v: number, step: number) => Math.abs(v / step - Math.round(v / step)) < 1e-6;

const makeTicks = (cfg: AxisCfg) => {
  const [lo, hi] = cfg.domain;
  const out: number[] = [];
  const start = Math.ceil(lo / cfg.minor - 1e-9);
  for (let i = start; i * cfg.minor <= hi + 1e-9; i++) out.push(+(i * cfg.minor).toFixed(6));
  return out;
};

const txt = { fontFamily: FONT, fontSize: 16, fill: '#111' };

interface Series {
  data: Pt[];
  color: string;
  right?: boolean;
}

interface PanelProps {
  x: number;
  y: number;
  w: number;
  h: number;
  xCfg: AxisCfg;
  yCfg: AxisCfg;
  rCfg?: AxisCfg; // right axis with labels
  rColor?: string;
  series: Series[];
  topLabels?: boolean;
  bottomLabels?: boolean;
  notes?: { x: number; y: number; text: string }[];
}

const Panel: React.FC<PanelProps> = ({ x, y, w, h, xCfg, yCfg, rCfg, rColor = '#000', series, topLabels, bottomLabels, notes }) => {
  const xTicks = makeTicks(xCfg);
  const yTicks = makeTicks(yCfg);
  const right = rCfg ?? yCfg;
  const rTicks = makeTicks(right);

  const xTick = (side: 'top' | 'bottom', labels: boolean) => (p: any) => {
    const v = p.payload.value as number;
    const maj = isMajor(v, xCfg.major);
    const y0 = side === 'bottom' ? M + h : M;
    const d = side === 'bottom' ? -1 : 1;
    return (
      <g>
        <line x1={p.x} x2={p.x} y1={y0} y2={y0 + d * 7} stroke="#000" strokeWidth={1.3} />
        {labels && maj && (
          <text x={p.x} y={side === 'bottom' ? y0 + 22 : y0 - 10} textAnchor="middle" {...txt}>
            {v.toFixed(xCfg.digits)}
          </text>
        )}
      </g>
    );
  };

  const yTick = (cfg: AxisCfg, side: 'left' | 'right', labels: boolean, color: string) => (p: any) => {
    const v = p.payload.value as number;
    const maj = isMajor(v, cfg.major);
    const x0 = side === 'left' ? M : M + w;
    const d = side === 'left' ? 1 : -1;
    const show = labels && maj && (cfg.maxLabel === undefined || v <= cfg.maxLabel + 1e-9);
    return (
      <g>
        <line x1={x0} x2={x0 + d * (maj ? 7 : 4)} y1={p.y} y2={p.y} stroke={color} strokeWidth={1.3} />
        {show && (
          <text x={side === 'left' ? x0 - 5 : x0 + 6} y={p.y} dy="0.36em" textAnchor={side === 'left' ? 'end' : 'start'} {...txt}>
            {v.toFixed(cfg.digits)}
          </text>
        )}
      </g>
    );
  };

  return (
    <div style={{ position: 'absolute', left: x - M, top: y - M }}>
      <LineChart width={w + 2 * M} height={h + 2 * M} margin={{ top: 0, right: 0, bottom: 0, left: 0 }}>
        <XAxis
          xAxisId="b"
          type="number"
          dataKey="x"
          domain={xCfg.domain}
          ticks={xTicks}
          interval={0}
          height={M}
          allowDataOverflow
          axisLine={{ stroke: '#000', strokeWidth: 1.5 }}
          tickLine={false}
          tick={xTick('bottom', !!bottomLabels)}
        />
        <XAxis
          xAxisId="t"
          orientation="top"
          type="number"
          dataKey="x"
          domain={xCfg.domain}
          ticks={xTicks}
          interval={0}
          height={M}
          allowDataOverflow
          axisLine={{ stroke: '#000', strokeWidth: 1.5 }}
          tickLine={false}
          tick={xTick('top', !!topLabels)}
        />
        <YAxis
          yAxisId="l"
          type="number"
          domain={yCfg.domain}
          reversed={yCfg.reversed}
          ticks={yTicks}
          interval={0}
          width={M}
          allowDataOverflow
          axisLine={{ stroke: '#000', strokeWidth: 1.5 }}
          tickLine={false}
          tick={yTick(yCfg, 'left', true, '#000')}
        />
        <YAxis
          yAxisId="r"
          orientation="right"
          type="number"
          domain={right.domain}
          reversed={right.reversed}
          ticks={rTicks}
          interval={0}
          width={M}
          allowDataOverflow
          axisLine={{ stroke: rColor, strokeWidth: 1.5 }}
          tickLine={false}
          tick={yTick(right, 'right', !!rCfg, rColor)}
        />
        {series.map((s, i) => (
          <Line
            key={i}
            xAxisId="b"
            yAxisId={s.right ? 'r' : 'l'}
            data={s.data.map(([a, v]) => ({ x: a, y: v }))}
            dataKey="y"
            type="linear"
            stroke={s.color}
            strokeWidth={1.3}
            dot={false}
            connectNulls={false}
            isAnimationActive={false}
          />
        ))}
        {(notes ?? []).map((n, i) => (
          <ReferenceDot
            key={'n' + i}
            xAxisId="b"
            yAxisId="l"
            x={n.x}
            y={n.y}
            r={0}
            fill="none"
            stroke="none"
            label={{ value: n.text, position: 'center', fill: '#111', fontSize: 16, fontFamily: FONT }}
          />
        ))}
      </LineChart>
    </div>
  );
};

const VLabel: React.FC<{ x: number; y: number; size?: number; color?: string; children: React.ReactNode }> = ({ x, y, size = 16, color = '#111', children }) => (
  <div
    style={{
      position: 'absolute',
      left: x,
      top: y,
      transform: 'translate(-50%, -50%) rotate(-90deg)',
      whiteSpace: 'nowrap',
      fontFamily: FONT,
      fontSize: size,
      color,
      lineHeight: 1,
    }}
  >
    {children}
  </div>
);

const HLabel: React.FC<{ x: number; y: number; size: number; children: React.ReactNode }> = ({ x, y, size, children }) => (
  <div
    style={{
      position: 'absolute',
      left: x,
      top: y,
      transform: 'translate(-50%, -50%)',
      whiteSpace: 'nowrap',
      fontFamily: FONT,
      fontSize: size,
      color: '#111',
      lineHeight: 1,
    }}
  >
    {children}
  </div>
);

const sup = { fontSize: '0.6em', verticalAlign: '0.6em' } as const;
const sub = { fontSize: '0.6em', verticalAlign: '-0.3em' } as const;

// layout
const LX = 88;
const LW = 481;
const LTOPS = [97, 243, 390, 536, 682, 828];
const RX = 735;
const RW = 467;
const RTOPS = [271, 391, 536, 681, 826];

export default function App() {
  const notes = kappaNoteAges.map((a, i) => ({ x: a, y: kappaNoteLevels[i], text: kappaNoteTexts[i] }));
  const lh = (i: number) => LTOPS[i + 1] - LTOPS[i];
  const rh = (i: number) => RTOPS[i + 1] - RTOPS[i];
  return (
    <div style={{ position: 'absolute', left: 0, top: 0, width: 1234, height: 897, background: '#fff', overflow: 'hidden' }}>
      <HLabel x={325} y={26} size={32}>MD98-2182</HLabel>
      <HLabel x={967} y={181} size={32}>MD98-2194</HLabel>

      {/* left column */}
      <Panel x={LX} y={LTOPS[0]} w={LW} h={lh(0)} xCfg={ageLeft} topLabels
        yCfg={{ domain: [-3, -0.5], major: 0.5, minor: 0.25, digits: 1, reversed: true }}
        series={[{ data: leftD18O, color: '#000' }]} />
      <Panel x={LX} y={LTOPS[1]} w={LW} h={lh(1)} xCfg={ageLeft}
        yCfg={{ domain: [0.9, 0.97], major: 0.02, minor: 0.01, digits: 2, maxLabel: 0.96 }}
        series={[{ data: leftS03, color: '#000' }]} />
      <Panel x={LX} y={LTOPS[2]} w={LW} h={lh(2)} xCfg={ageLeft}
        yCfg={{ domain: [0, 340], major: 50, minor: 25, digits: 0 }}
        series={[{ data: leftArmK, color: '#000' }]} />
      <Panel x={LX} y={LTOPS[3]} w={LW} h={lh(3)} xCfg={ageLeft}
        yCfg={{ domain: [0, 140], major: 50, minor: 25, digits: 0 }}
        rCfg={{ domain: [0, 7], major: 2, minor: 1, digits: 0 }} rColor="#999"
        series={[{ data: leftIrm, color: '#999', right: true }, { data: leftArm, color: '#000' }]} />
      <Panel x={LX} y={LTOPS[4]} w={LW} h={lh(4)} xCfg={ageLeft} bottomLabels
        yCfg={{ domain: [0, 78], major: 20, minor: 10, digits: 0 }}
        series={[{ data: leftKappa, color: '#000' }]} />

      <VLabel x={36} y={170}>δ<span style={sup}>18</span>O (PDB)</VLabel>
      <VLabel x={40} y={316}>S<span style={sub}>-0.3</span></VLabel>
      <VLabel x={35} y={463}>ARM/κ (mA/m)</VLabel>
      <VLabel x={38} y={609}>ARM (mA/m)</VLabel>
      <VLabel x={607} y={609} color="#999">IRM (A/m)</VLabel>
      <VLabel x={45} y={755} size={14}>κ (10<span style={sup}>-5</span> SI)</VLabel>
      <HLabel x={330} y={881} size={20}>Age (kyr)</HLabel>

      {/* right column */}
      <Panel x={RX} y={RTOPS[0]} w={RW} h={rh(0)} xCfg={ageRight} topLabels
        yCfg={{ domain: [-3, -0.25], major: 0.5, minor: 0.25, digits: 1, reversed: true }}
        series={[{ data: rightD18O, color: '#000' }]} />
      <Panel x={RX} y={RTOPS[1]} w={RW} h={rh(1)} xCfg={ageRight}
        yCfg={{ domain: [0, 600], major: 150, minor: 75, digits: 0, maxLabel: 450 }}
        series={[{ data: rightArmK, color: '#000' }]} />
      <Panel x={RX} y={RTOPS[2]} w={RW} h={rh(2)} xCfg={ageRight}
        yCfg={{ domain: [0, 190], major: 50, minor: 25, digits: 0 }}
        series={[{ data: rightArm, color: '#000' }]} />
      <Panel x={RX} y={RTOPS[3]} w={RW} h={rh(3)} xCfg={ageRight} bottomLabels
        yCfg={{ domain: [15, 49], major: 5, minor: 2.5, digits: 0 }}
        series={[{ data: rightKappa, color: '#000' }]} notes={notes} />

      <VLabel x={681} y={331}>δ<span style={sup}>18</span>O (PDB)</VLabel>
      <VLabel x={681} y={463}>ARM/κ (mA/m)</VLabel>
      <VLabel x={684} y={608}>ARM (mA/m)</VLabel>
      <VLabel x={690} y={753} size={14}>κ (10<span style={sup}>-5</span> SI)</VLabel>
      <HLabel x={968} y={881} size={20}>Age (kyr)</HLabel>
    </div>
  );
}
